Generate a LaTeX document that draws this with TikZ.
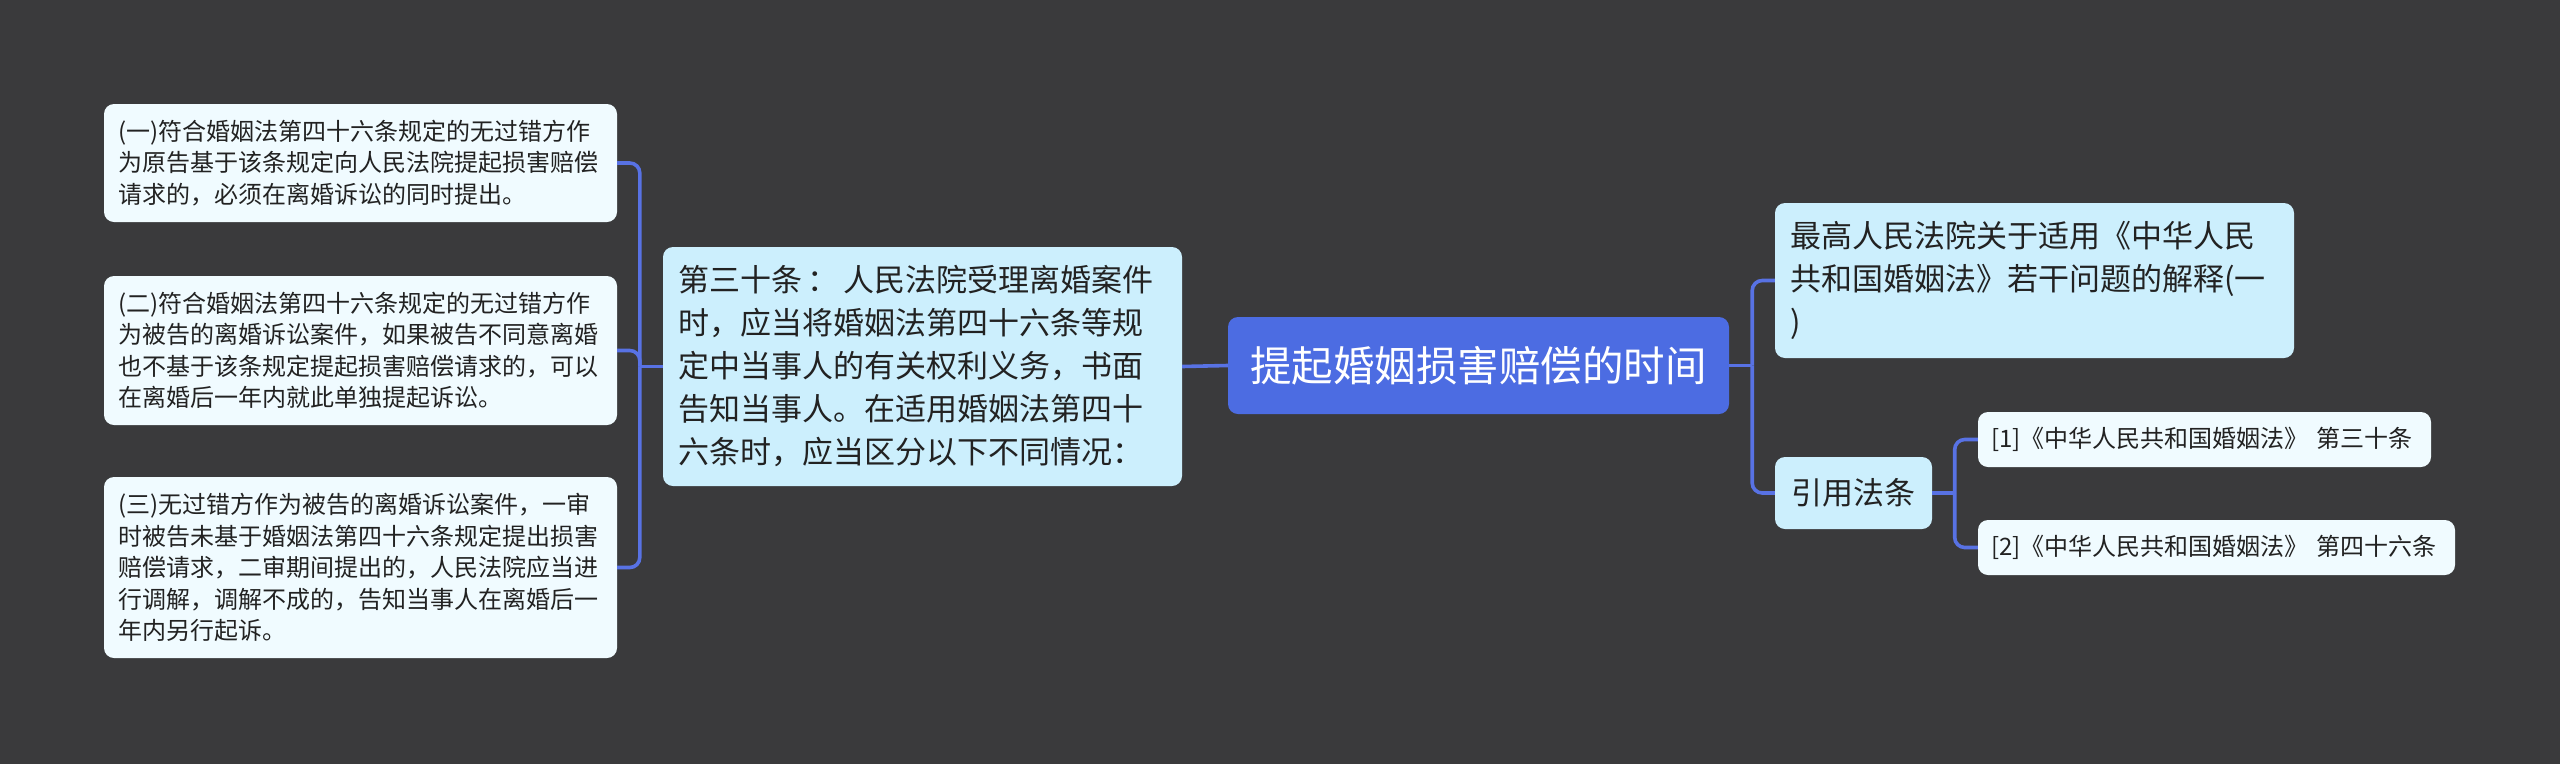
\documentclass[tikz,border=0pt]{standalone}
\usepackage{fontspec}
\setmainfont{Noto Sans CJK SC}
\definecolor{bgcol}{RGB}{58,58,60}
\definecolor{leafcol}{RGB}{240,251,255}
\definecolor{midcol}{RGB}{204,239,253}
\definecolor{rootcol}{RGB}{76,108,226}
\definecolor{linkcol}{RGB}{88,114,228}
\definecolor{txtcol}{RGB}{34,34,34}
\tikzset{
  box/.style={rectangle, rounded corners=10pt, text=txtcol, align=left, inner ysep=0pt},
  leaf/.style={box, fill=leafcol, inner xsep=14pt, text width=485pt, font=\fontsize{24}{31.5}\selectfont},
  branch/.style={box, fill=midcol, inner xsep=15pt, text width=489pt, font=\fontsize{31}{43}\selectfont},
  cite/.style={box, fill=leafcol, inner xsep=13pt, font=\fontsize{24}{31.5}\selectfont},
  topic/.style={box, fill=rootcol, text=white, align=center, inner xsep=20pt, text width=461pt, minimum height=97pt, font=\fontsize{41.5}{50}\selectfont},
  link/.style={draw=linkcol, line width=3.6pt},
  elbow/.style={link, rounded corners=10pt}
}
\begin{document}
\begin{tikzpicture}[x=1pt, y=-1pt]
\fill[bgcol] (0,0) rectangle (2560,764);
\useasboundingbox (0,0) rectangle (2560,764);
% centre
\node[topic] (root) at (1478.5,365.5) {提起婚姻损害赔偿的时间};
% left side
\node[branch, minimum height=239pt] (art30) at (922.5,366.5) {第三十条\,：\,人民法院受理离婚案件\\时，应当将婚姻法第四十六条等规\\定中当事人的有关权利义务，书面\\告知当事人。在适用婚姻法第四十\\六条时，应当区分以下不同情况：};
\node[leaf, minimum height=118pt] (case1) at (360.5,163) {(一)符合婚姻法第四十六条规定的无过错方作\\为原告基于该条规定向人民法院提起损害赔偿\\请求的，必须在离婚诉讼的同时提出。};
\node[leaf, minimum height=149pt] (case2) at (360.5,350.5) {(二)符合婚姻法第四十六条规定的无过错方作\\为被告的离婚诉讼案件，如果被告不同意离婚\\也不基于该条规定提起损害赔偿请求的，可以\\在离婚后一年内就此单独提起诉讼。};
\node[leaf, minimum height=181pt] (case3) at (360.5,567.5) {(三)无过错方作为被告的离婚诉讼案件，一审\\时被告未基于婚姻法第四十六条规定提出损害\\赔偿请求，二审期间提出的，人民法院应当进\\行调解，调解不成的，告知当事人在离婚后一\\年内另行起诉。};
% right side
\node[branch, minimum height=155pt] (interp) at (2034.5,280.5) {最高人民法院关于适用《中华人民\\共和国婚姻法》若干问题的解释(一\\)};
\node[branch, text width=125pt, inner xsep=16pt, align=center, minimum height=72pt] (laws) at (1853.5,493) {引用法条};
\node[cite, text width=427pt, minimum height=55pt] (law1) at (2204.5,439.5) {[1]《中华人民共和国婚姻法》 第三十条};
\node[cite, text width=451pt, minimum height=55pt] (law2) at (2216.5,547.5) {[2]《中华人民共和国婚姻法》 第四十六条};
% connectors
\draw[link] (root.west) -- (art30.east);
\draw[link] (art30.west) -- ++(-23,0) coordinate (busL);
\draw[elbow] (busL) |- (case1.east);
\draw[elbow] (busL) |- (case2.east);
\draw[elbow] (busL) |- (case3.east);
\draw[link] (root.east) -- ++(23,0) coordinate (busR);
\draw[elbow] (busR) |- (interp.west);
\draw[elbow] (busR) |- (laws.west);
\draw[link] (laws.east) -- ++(22.5,0) coordinate (busC);
\draw[elbow] (busC) |- (law1.west);
\draw[elbow] (busC) |- (law2.west);
\end{tikzpicture}
\end{document}
